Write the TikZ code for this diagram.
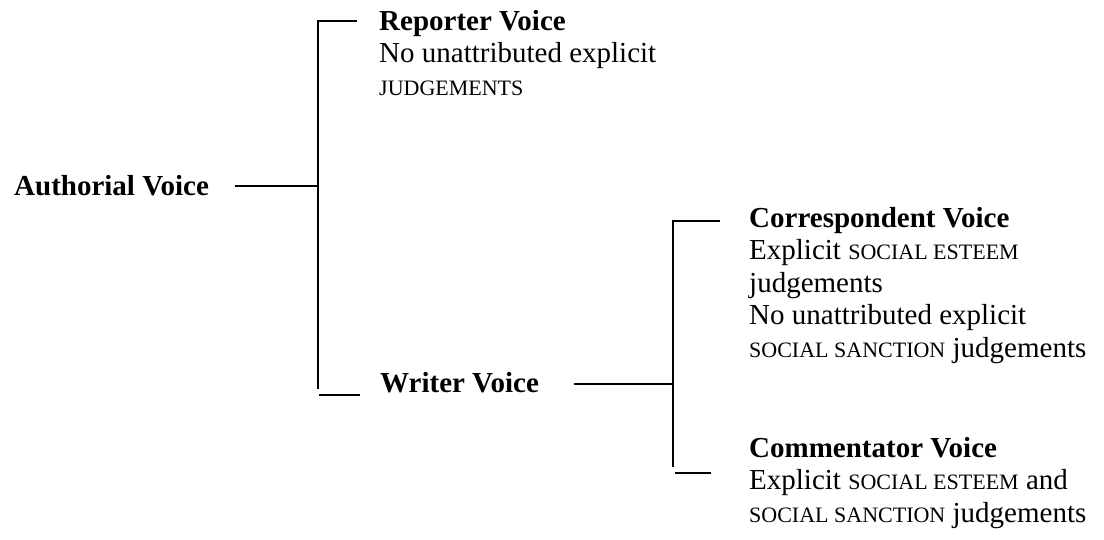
\documentclass[tikz,border=0pt]{standalone}
\usepackage{fontspec}
\setmainfont{Liberation Serif}
\newcommand{\smc}[1]{{\fontsize{22}{32.5}\selectfont #1}}
\begin{document}
\begin{tikzpicture}[x=1pt,y=-1pt,
  txt/.style={anchor=base west,inner sep=0pt,align=left,font=\fontsize{29}{32.5}\selectfont},
  conn/.style={line width=1.8pt,black}]
\useasboundingbox (0,0) rectangle (1104,539);
% texts (anchor = baseline of the last line)
\node[txt] (auth) at (14,195) {\textbf{Authorial Voice}};
\node[txt] (rep) at (379,95) {\textbf{Reporter Voice}\\No unattributed explicit\\\smc{JUDGEMENTS}};
\node[txt] (wri) at (380,392) {\textbf{Writer Voice}};
\node[txt] (cor) at (749,357) {\textbf{Correspondent Voice}\\Explicit \smc{SOCIAL ESTEEM}\\judgements\\No unattributed explicit\\\smc{SOCIAL SANCTION} judgements};
\node[txt] (com) at (749,522) {\textbf{Commentator Voice}\\Explicit \smc{SOCIAL ESTEEM} and\\\smc{SOCIAL SANCTION} judgements};
% bracket coordinates
\coordinate (a0) at (235,186);
\coordinate (a1) at (318,186);
\coordinate (t0) at (318,21);
\coordinate (t1) at (357,21);
\coordinate (b0) at (318,389);
\coordinate (b1) at (319,395);
\coordinate (b2) at (360,395);
\coordinate (w0) at (574,384);
\coordinate (w1) at (673,384);
\coordinate (u0) at (673,221);
\coordinate (u1) at (720,221);
\coordinate (d0) at (673,467);
\coordinate (d1) at (675,473);
\coordinate (d2) at (711,473);
% connectors
\draw[conn] (a0) -- (a1);
\draw[conn] (t1) -- (t0) -- (b0);
\draw[conn] (b1) -- (b2);
\draw[conn] (w0) -- (w1);
\draw[conn] (u1) -- (u0) -- (d0);
\draw[conn] (d1) -- (d2);
\end{tikzpicture}
\end{document}
